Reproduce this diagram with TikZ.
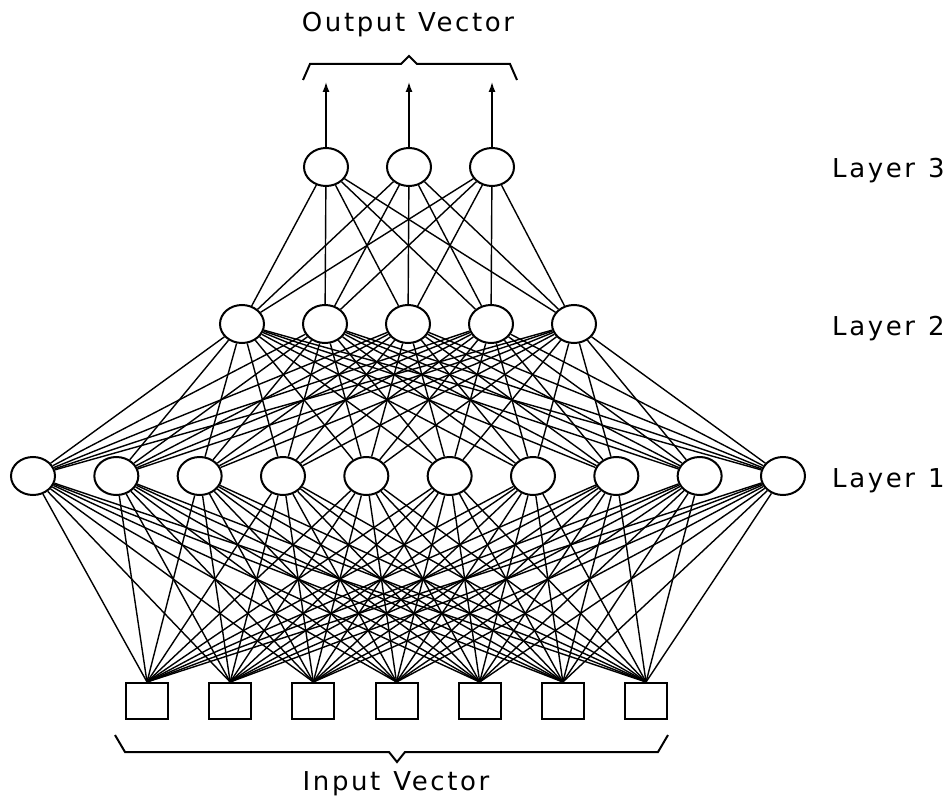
\documentclass[tikz,border=0pt]{standalone}
\usepackage{fontspec}
\setmainfont{DejaVu Sans}
\newfontfamily\netfont[LetterSpace=10]{DejaVu Sans}
\usetikzlibrary{arrows.meta,shapes.geometric}

\begin{document}
\begin{tikzpicture}[x=1pt,y=-1pt,
    neuron/.style={draw,ellipse,line width=2pt,minimum width=44pt,minimum height=38pt,inner sep=0pt},
    inbox/.style={draw,rectangle,line width=2pt,minimum width=42pt,minimum height=36pt,inner sep=0pt},
    wire/.style={line width=1.4pt},
    lbl/.style={font=\netfont\fontsize{26}{30}\selectfont,inner sep=0pt}]
    \useasboundingbox (0,0) rectangle (952,802);
    % units
    \foreach \i in {1,...,7}
        \node[inbox] (in\i) at ({147+83.17*(\i-1)},701) {};
    \foreach \i in {1,...,10}
        \node[neuron] (a\i) at ({33+83.33*(\i-1)},476) {};
    \foreach \i in {1,...,5}
        \node[neuron] (b\i) at ({242+83*(\i-1)},324) {};
    \foreach \i in {1,...,3}
        \node[neuron] (c\i) at ({326+83*(\i-1)},167) {};
    % weights
    \foreach \i in {1,...,7}
        \foreach \j in {1,...,10}
            \draw[wire] (in\i.north) -- (a\j);
    \foreach \i in {1,...,10}
        \foreach \j in {1,...,5}
            \draw[wire] (a\i) -- (b\j);
    \foreach \i in {1,...,5}
        \foreach \j in {1,...,3}
            \draw[wire] (b\i) -- (c\j);
    % outputs
    \foreach \i in {1,...,3} {
        \coordinate (out\i) at ({326+83*(\i-1)},82);
        \draw[wire,-{Latex[length=10pt,width=7pt]}] (c\i.north) -- (out\i);
    }
    % braces
    \draw[line width=2pt] (303,80) -- (310,64) -- (401,64) -- (409,56) -- (417,64) -- (510,64) -- (517,80);
    \draw[line width=2pt] (115,735) -- (125,752) -- (389,752) -- (397,762) -- (405,752) -- (658,752) -- (668,735);
    % labels
    \node[lbl,anchor=base] (outtxt) at (408,32) {Output\enspace Vector};
    \node[lbl,anchor=base] (intxt) at (396,790) {Input\enspace Vector};
    \node[lbl,anchor=base west] (lay3) at (832,178) {Layer\enspace 3};
    \node[lbl,anchor=base west] (lay2) at (832,335) {Layer\enspace 2};
    \node[lbl,anchor=base west] (lay1) at (832,487) {Layer\enspace 1};
\end{tikzpicture}
\end{document}
